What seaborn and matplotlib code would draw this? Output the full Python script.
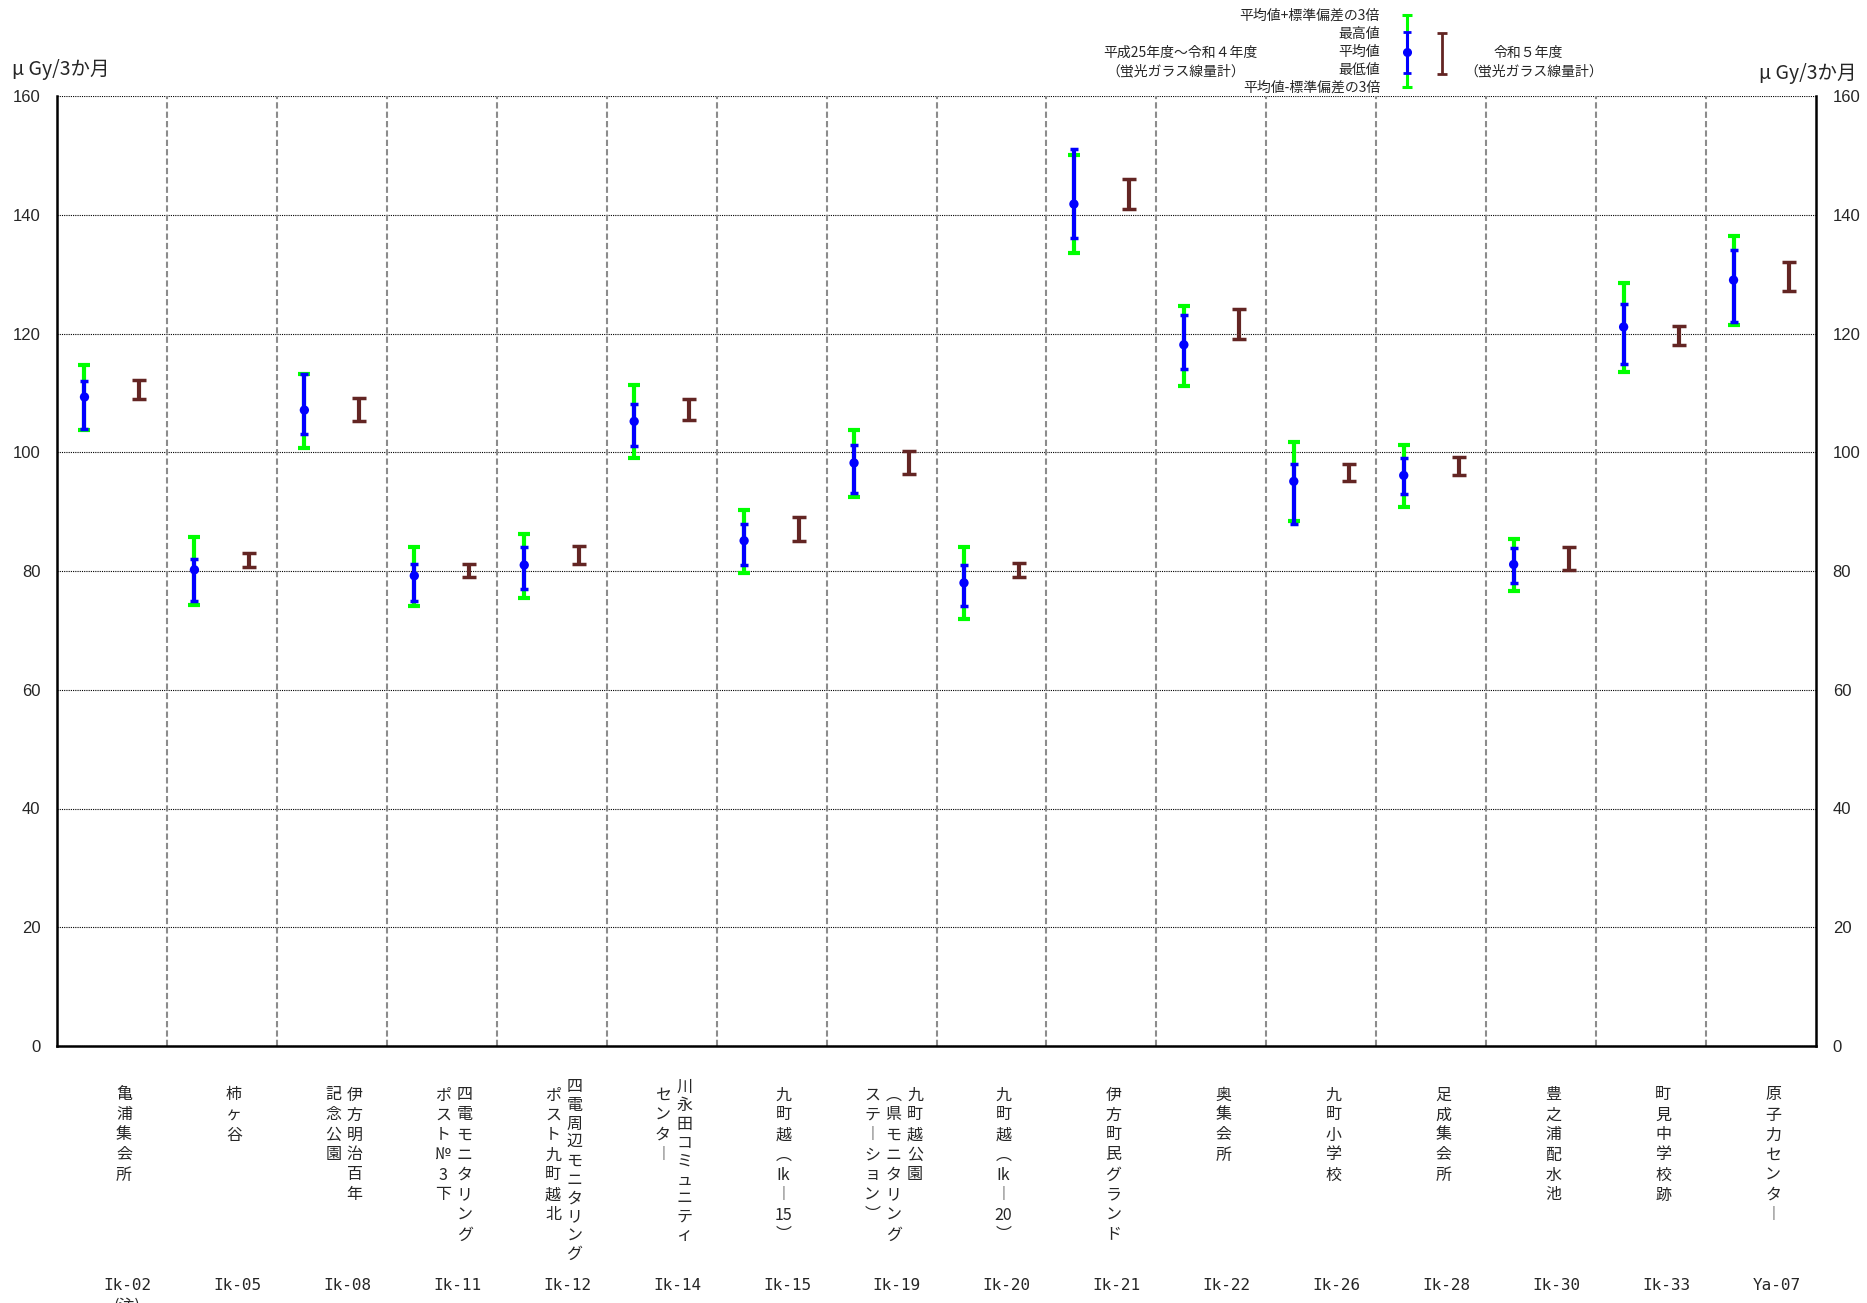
import re
import numpy as np
import pandas as pd
import matplotlib
matplotlib.use("Agg")
import matplotlib.pyplot as plt
import matplotlib.transforms as mtransforms
import seaborn as sns

# ---------------- data ----------------
codes = ["Ik-02", "Ik-05", "Ik-08", "Ik-11", "Ik-12", "Ik-14", "Ik-15", "Ik-19",
         "Ik-20", "Ik-21", "Ik-22", "Ik-26", "Ik-28", "Ik-30", "Ik-33", "Ya-07"]
names = ["亀浦集会所", "柿ヶ谷", "伊方明治百年\n記念公園", "四電モニタリング\nポスト№3下",
         "四電周辺モニタリング\nポスト九町越北", "川永田コミュニティ\nセンター", "九町越（Ik－15）",
         "九町越公園\n（県モニタリング\nステーション）", "九町越（Ik－20）", "伊方町民グランド",
         "奥集会所", "九町小学校", "足成集会所", "豊之浦配水池", "町見中学校跡", "原子力センター"]
mean_hist = [109.3, 80.2, 107.1, 79.2, 81.0, 105.2, 85.1, 98.2, 78.0, 141.8, 118.1, 95.1, 96.1, 81.1, 121.1, 129.0]
max_hist = [112.0, 82.0, 113.1, 81.1, 84.1, 108.2, 88.0, 101.2, 81.0, 151.1, 123.1, 98.0, 99.0, 83.9, 124.9, 134.1]
min_hist = [104.0, 75.0, 103.0, 75.0, 77.0, 101.0, 81.0, 93.2, 74.1, 136.1, 114.0, 88.0, 93.0, 78.0, 114.9, 122.0]
sd3_hi = [114.7, 85.8, 113.1, 84.1, 86.3, 111.4, 90.3, 103.8, 84.1, 150.0, 124.7, 101.7, 101.3, 85.4, 128.5, 136.5]
sd3_lo = [103.8, 74.2, 100.8, 74.1, 75.4, 99.0, 79.7, 92.4, 72.0, 133.5, 111.2, 88.5, 90.7, 76.6, 113.5, 121.5]
r5_max = [112.1, 83.1, 109.1, 81.2, 84.2, 109.0, 89.1, 100.2, 81.3, 146.0, 124.1, 98.1, 99.2, 84.0, 121.2, 132.1]
r5_min = [109.0, 80.6, 105.2, 79.0, 81.1, 105.4, 85.1, 96.4, 79.0, 141.0, 119.1, 95.2, 96.1, 80.1, 118.1, 127.2]
yticks = [0, 20, 40, 60, 80, 100, 120, 140, 160]
unit_label = "μ Gy/3か月"
note_label = "(注)"
leg_hist_labels = ["平均値+標準偏差の3倍", "最高値", "平均値", "最低値", "平均値-標準偏差の3倍"]
leg_hist_title = ["平成25年度～令和４年度", "（蛍光ガラス線量計）"]
leg_r5_title = ["令和５年度", "（蛍光ガラス線量計）"]

# ---------------- style ----------------
sns.set_style("white")
plt.rcParams['font.family'] = ['Noto Sans CJK JP', 'DejaVu Sans']

W, H = 1867, 1303
fig = plt.figure(figsize=(W / 100, H / 100), dpi=100)
L, R, T, B = 57, 1816, 96, 1046
ax = fig.add_axes([L / W, 1 - B / H, (R - L) / W, (B - T) / H])

n = len(codes)
idx = np.arange(n)
df = pd.DataFrame({
    "code": codes, "x_hist": idx - 0.25, "x_r5": idx + 0.25,
    "mean": mean_hist, "max": max_hist, "min": min_hist,
    "hi": sd3_hi, "lo": sd3_lo, "r5max": r5_max, "r5min": r5_min,
})

# grid
for v in yticks:
    ax.axhline(v, color="black", lw=0.8, ls=(0, (1, 1)), zorder=1)
for b in np.arange(n - 1) + 0.5:
    ax.axvline(b, color="#8c8c8c", lw=1.5, ls=(0, (3, 1.5)), zorder=1)

# mean +/- 3 sd (green)
gmid = (df["hi"] + df["lo"]) / 2
ax.errorbar(df["x_hist"], gmid, yerr=[gmid - df["lo"], df["hi"] - gmid], fmt="none",
            ecolor="#00ff00", elinewidth=3, capsize=4.3, capthick=3, zorder=3)
# min-max (blue)
bmid = (df["max"] + df["min"]) / 2
ax.errorbar(df["x_hist"], bmid, yerr=[bmid - df["min"], df["max"] - bmid], fmt="none",
            ecolor="#0000ff", elinewidth=3, capsize=2.7, capthick=2.5, zorder=4)
sns.scatterplot(data=df, x="x_hist", y="mean", color="#0000ff", s=45, edgecolor="none",
                ax=ax, zorder=5, legend=False)
# R5 range (dark red)
rmid = (df["r5max"] + df["r5min"]) / 2
ax.errorbar(df["x_r5"], rmid, yerr=[rmid - df["r5min"], df["r5max"] - rmid], fmt="none",
            ecolor="#632523", elinewidth=3, capsize=4.7, capthick=2.5, zorder=4)

ax.set_xlim(-0.5, n - 0.5)
ax.set_ylim(0, 160)
ax.set_yticks(yticks)
ax.set_xticks([])
ax.set_xlabel("")
ax.set_ylabel("")
ax.tick_params(axis="y", length=0, pad=12, labelsize=12, labelright=True, labelleft=True)
for lab in ax.get_yticklabels():
    lab.set_fontfamily("Liberation Sans")
for s in ["left", "right", "bottom"]:
    ax.spines[s].set_visible(True)
    ax.spines[s].set_color("black")
    ax.spines[s].set_linewidth(1.8)
ax.spines["top"].set_visible(False)

# unit labels
fig.text(12 / W, 1 - 70 / H, unit_label, fontsize=14, ha="left", va="center")
fig.text(1856 / W, 1 - 73 / H, unit_label, fontsize=14, ha="right", va="center")

# vertical category names
trans = mtransforms.blended_transform_factory(ax.transData, fig.transFigure)
vmap = {"（": "︵", "）": "︶", "ー": "︱", "－": "︱"}
cat_px = (R - L) / n
col_sp = 21.5 / cat_px
for i, nm in enumerate(names):
    cols = nm.split("\n")
    nc = len(cols)
    for j, col in enumerate(cols):
        xc = i + 0.11 + ((nc - 1) / 2 - j) * col_sp
        toks = re.findall(r"[A-Za-z0-9.]+|.", col)
        if len(toks) > 8:
            y0, pitch = 1087, 18.6
        else:
            y0, pitch = 1095, 20.0
        for k, t in enumerate(toks):
            t = vmap.get(t, t)
            ypx = y0 + k * pitch
            fig.text(xc, 1 - ypx / H, t, transform=trans, fontsize=11.5,
                     ha="center", va="center")
    fig.text(i + 0.14, 1 - 1286 / H, codes[i], transform=trans, fontsize=11.5,
             family="DejaVu Sans Mono", ha="center", va="center")
fig.text(0 + 0.14, 1 - 1306 / H, note_label, transform=trans, fontsize=11.5,
         ha="center", va="center")

# ---------------- legend ----------------
lax = fig.add_axes([0, 0, 1, 1], facecolor="none")
lax.set_xlim(0, W)
lax.set_ylim(H, 0)
lax.axis("off")
ly = [16, 34, 52, 70, 88]
for yy, t in zip(ly, leg_hist_labels):
    lax.text(1380, yy, t, fontsize=10, ha="right", va="center")
lax.text(1180, 53, leg_hist_title[0], fontsize=10, ha="center", va="center")
lax.text(1176, 71, leg_hist_title[1], fontsize=10, ha="center", va="center")
lax.text(1528, 53, leg_r5_title[0], fontsize=10, ha="center", va="center")
lax.text(1534, 71, leg_r5_title[1], fontsize=10, ha="center", va="center")
gx, rx = 1407, 1442
lax.errorbar([gx], [(15 + 87) / 2], yerr=[[(87 - 15) / 2]], fmt="none",
             ecolor="#00ff00", elinewidth=2.2, capsize=3.5, capthick=2.2)
lax.errorbar([gx], [(32 + 73) / 2], yerr=[[(73 - 32) / 2]], fmt="none",
             ecolor="#0000ff", elinewidth=2.2, capsize=3, capthick=2)
lax.plot([gx], [52], "o", color="#0000ff", ms=5.5)
lax.errorbar([rx], [(33 + 74) / 2], yerr=[[(74 - 33) / 2]], fmt="none",
             ecolor="#632523", elinewidth=2, capsize=3.5, capthick=2)

fig.savefig("out.png", dpi=100)
